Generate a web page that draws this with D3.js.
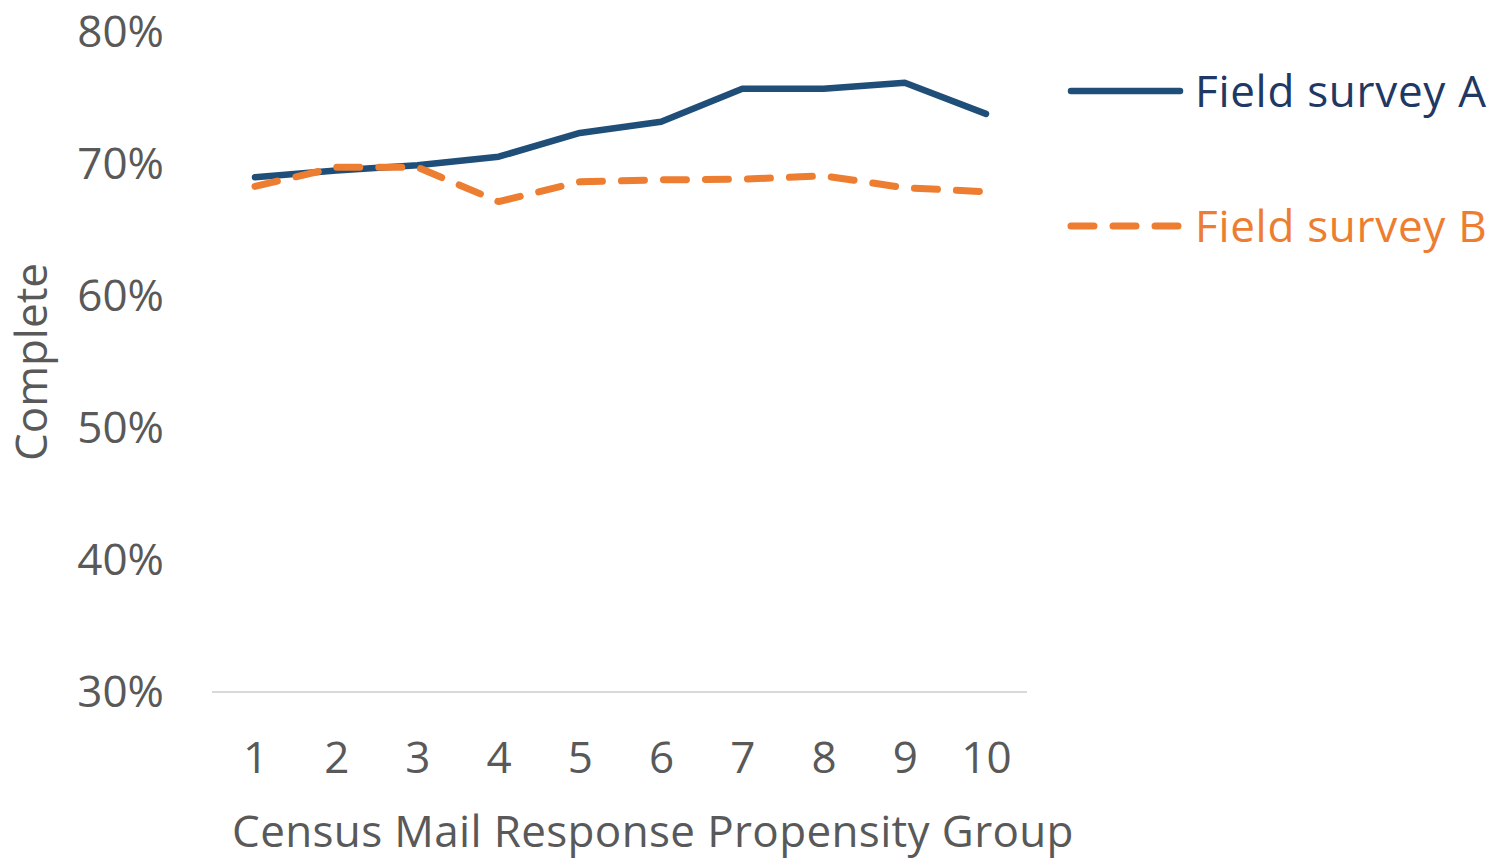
<!DOCTYPE html>
<html>
<head>
<meta charset="utf-8">
<script src="https://cdn.jsdelivr.net/npm/d3@7"></script>
<style>
  html, body { margin: 0; padding: 0; background: #fff; }
  svg { display: block; }
  text { font-family: "Open Sans", sans-serif; }
</style>
</head>
<body>
<svg id="chart" width="1493" height="861"></svg>
<script>
const categories = ["1", "2", "3", "4", "5", "6", "7", "8", "9", "10"];
const seriesA = [69.0, 69.5, 69.9, 70.55, 72.35, 73.2, 75.7, 75.7, 76.15, 73.8];
const seriesB = [68.3, 69.75, 69.75, 67.15, 68.65, 68.8, 68.85, 69.1, 68.2, 67.9];
const seriesNames = ["Field survey A", "Field survey B"];
const yTicks = [30, 40, 50, 60, 70, 80];
const xTitle = "Census Mail Response Propensity Group";
const yTitle = "Complete";

const svg = d3.select("#chart");
const colA = "#1f4e79", colB = "#ed7d31", textCol = "#595959";

const x = d3.scalePoint().domain(categories).range([255, 986]);
const y = d3.scaleLinear().domain([30, 80]).range([692, 32]);

// baseline axis line
svg.append("line")
  .attr("x1", 212).attr("x2", 1027)
  .attr("y1", y(30)).attr("y2", y(30))
  .attr("stroke", "#d9d9d9").attr("stroke-width", 2);

// y tick labels
const yAxis = d3.axisLeft(y).tickValues(yTicks).tickFormat(d => d + "%").tickSize(0).tickPadding(0);
const gy = svg.append("g").attr("transform", "translate(164,0)").call(yAxis);
gy.select(".domain").remove();
gy.selectAll("text").attr("font-size", 44).attr("fill", textCol)
  .attr("font-family", "'Open Sans', sans-serif");

// x tick labels
const xAxis = d3.axisBottom(x).tickSize(0).tickPadding(0);
const gx = svg.append("g").attr("transform", "translate(0,742)").call(xAxis);
gx.select(".domain").remove();
gx.selectAll("text").attr("font-size", 44).attr("fill", textCol)
  .attr("font-family", "'Open Sans', sans-serif");

// titles
svg.append("text").attr("x", 653).attr("y", 847)
  .attr("text-anchor", "middle").attr("font-size", 44).attr("fill", textCol)
  .attr("letter-spacing", 0.35)
  .text(xTitle);
svg.append("text").attr("transform", "translate(47,362) rotate(-90)")
  .attr("text-anchor", "middle").attr("font-size", 44).attr("fill", textCol)
  .text(yTitle);

// lines
const line = d3.line().x((d, i) => x(categories[i])).y(d => y(d));
svg.append("path").datum(seriesA).attr("d", line)
  .attr("fill", "none").attr("stroke", colA).attr("stroke-width", 6.5)
  .attr("stroke-linejoin", "round").attr("stroke-linecap", "round");
svg.append("path").datum(seriesB).attr("d", line)
  .attr("fill", "none").attr("stroke", colB).attr("stroke-width", 7)
  .attr("stroke-linejoin", "round").attr("stroke-linecap", "round")
  .attr("stroke-dasharray", "23,19");

// legend
const legend = [
  { name: seriesNames[0], color: colA, text: "#203864", dash: null, y: 91 },
  { name: seriesNames[1], color: colB, text: colB, dash: "23,19", y: 226 }
];
legend.forEach(l => {
  svg.append("line").attr("x1", 1071).attr("x2", 1180).attr("y1", l.y).attr("y2", l.y)
    .attr("stroke", l.color).attr("stroke-width", l.dash ? 7 : 6.5).attr("stroke-linecap", "round")
    .attr("stroke-dasharray", l.dash);
  svg.append("text").attr("x", 1195).attr("y", l.y + 16)
    .attr("font-size", 44).attr("fill", l.text).attr("letter-spacing", 0.7).text(l.name);
});
</script>
</body>
</html>
